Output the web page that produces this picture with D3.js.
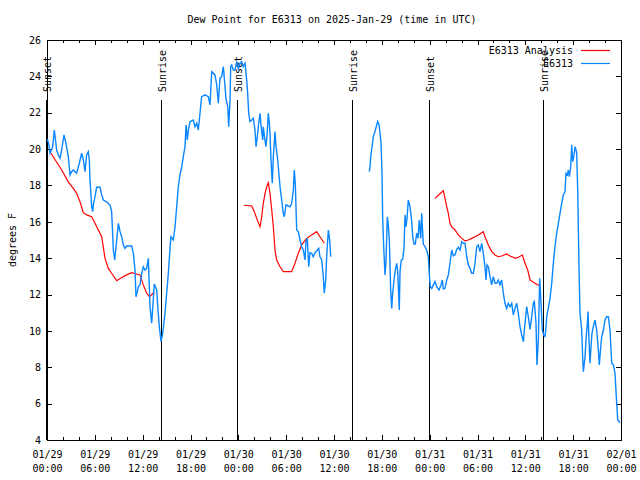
<!DOCTYPE html>
<html><head><meta charset="utf-8">
<script src="https://cdn.jsdelivr.net/npm/d3@7"></script>
<style>
body{margin:0;background:#fff}
text{font-family:"DejaVu Sans Mono",monospace;font-size:10px;fill:#000}
</style>
</head><body><svg id="c" width="640" height="480"></svg>
<script>
const title = "Dew Point for E6313 on 2025-Jan-29 (time in UTC)";
const yLabel = "degrees F";
const xTickHours = [0,6,12,18,24,30,36,42,48,54,60,66,72];
const xTickDates = ["01/29","01/29","01/29","01/29","01/30","01/30","01/30","01/30","01/31","01/31","01/31","01/31","02/01"];
const xTickTimes = ["00:00","06:00","12:00","18:00","00:00","06:00","12:00","18:00","00:00","06:00","12:00","18:00","00:00"];
const yTicks = [4,6,8,10,12,14,16,18,20,22,24,26];
const eventHours = [0, 14.38, 24.02, 38.37, 48.07, 62.36];
const eventLabels = ["Sunset","Sunrise","Sunset","Sunrise","Sunset","Sunrise"];
const seriesNames = ["E6313 Analysis","E6313"];
const seriesColors = ["#ff0000","#0a86ff"];

const analysisHours = [0.5,1.84,2.67,3.3,3.72,4.14,4.55,4.98,5.6,6.02,6.44,6.86,7.28,7.69,8.11,8.74,9.37,9.99,10.62,11.25,11.67,12.08,12.5,12.84,13.33,13.5,
 14,
 24.71,25.68,25.97,26.3,26.72,26.93,27.13,27.35,27.56,27.76,27.97,28.19,28.39,28.6,28.81,29.23,29.64,30.69,31.11,31.52,31.95,32.57,33.2,33.83,34.24,34.78,
 40,
 48.67,49.71,49.92,50.14,50.34,50.55,50.76,51.18,51.6,52.02,52.43,52.85,53.27,53.69,54.1,54.73,54.94,55.36,55.78,56.2,56.61,57.03,57.66,58.08,58.49,58.7,59.12,59.62,59.96,60.3,60.59,61.21,61.63,61.75];
const analysisValues = [19.77,18.85,18.2,17.84,17.57,17.1,16.5,16.38,16.28,15.92,15.55,15.18,13.99,13.44,13.17,12.76,12.94,13.08,13.2,13.13,13.08,12.53,12.07,11.88,12.07,12.1,
 null,
 16.91,16.87,16.6,16.19,15.73,16.28,17.02,17.57,17.93,18.15,17.57,16.65,15.73,14.45,13.9,13.53,13.26,13.26,13.72,14.27,14.73,15.09,15.28,15.46,15.18,14.82,
 null,
 17.29,17.71,17.29,16.83,16.47,15.92,15.73,15.55,15.28,15.09,14.95,15.0,15.09,15.18,15.28,15.46,15.18,14.73,14.36,14.18,14.08,14.12,14.23,14.12,14.05,13.99,14.05,14.17,13.72,13.35,12.8,12.62,12.53,12.5];

const obsHours = [0.04,0.21,0.38,0.71,0.92,1.21,1.42,1.63,1.84,2.13,2.38,2.67,2.89,3.09,3.3,3.51,3.72,4.05,4.35,4.56,4.77,4.97,5.18,5.31,5.39,5.48,5.6,5.73,5.81,6.02,6.23,6.65,6.86,7.07,7.48,7.9,8.11,8.32,8.49,8.66,8.95,9.16,9.37,9.58,9.78,9.99,10.62,10.83,11.04,11.16,11.33,11.45,11.67,11.88,12.08,12.29,12.5,12.71,12.92,13.13,13.33,13.46,13.76,13.89,14.09,14.3,14.51,14.8,15.01,15.22,15.43,15.55,15.84,16.06,16.27,16.47,16.68,16.9,17.1,17.31,17.44,17.6,17.73,17.94,18.35,18.56,18.78,18.98,19.19,19.4,19.82,20.23,20.45,20.66,21.07,21.29,21.49,21.7,21.91,22.12,22.33,22.45,22.67,22.79,22.96,23.04,23.17,23.37,23.58,23.8,24.0,24.21,24.42,24.62,24.84,25.05,25.17,25.3,25.46,25.68,25.88,26.09,26.22,26.38,26.5,26.72,26.84,27.05,27.13,27.3,27.47,27.63,27.76,27.89,27.97,28.1,28.26,28.39,28.6,28.73,28.94,29.23,29.44,29.64,29.77,29.98,30.27,30.48,30.69,30.9,31.02,31.15,31.32,31.52,31.74,31.95,32.15,32.36,32.49,32.65,32.83,32.99,33.2,33.4,33.62,33.91,34.08,34.24,34.46,34.66,34.78,34.96,35.08,35.29,35.46,35.59,
 38,
 40.43,40.52,40.6,40.77,40.93,41.14,41.36,41.48,41.65,41.77,41.9,42.02,42.11,42.27,42.4,42.52,42.69,42.81,42.94,43.11,43.24,43.36,43.53,43.69,43.86,43.99,44.19,44.28,44.44,44.62,44.78,44.91,45.03,45.16,45.32,45.53,45.75,45.87,46.04,46.2,46.37,46.54,46.7,46.88,47.0,47.2,47.41,47.63,47.83,47.96,48.08,48.26,48.46,48.67,48.88,49.17,49.42,49.59,49.71,49.92,50.14,50.34,50.55,50.77,50.97,51.18,51.39,51.6,51.81,52.02,52.22,52.43,52.65,52.85,53.06,53.27,53.48,53.69,53.9,54.1,54.31,54.53,54.73,54.94,55.07,55.19,55.36,55.57,55.78,55.98,56.2,56.41,56.61,56.82,57.03,57.24,57.45,57.66,57.86,58.08,58.29,58.49,58.7,58.92,59.12,59.33,59.54,59.75,59.96,60.17,60.37,60.59,60.8,61.0,61.13,61.34,61.46,61.63,61.8,61.97,62.13,62.3,62.47,62.6,62.68,62.88,63.1,63.31,63.51,63.72,63.93,64.14,64.35,64.56,64.77,64.98,65.1,65.27,65.39,65.52,65.69,65.82,65.94,66.11,66.23,66.36,66.44,66.57,66.73,66.86,67.07,67.19,67.28,67.49,67.61,67.78,67.87,67.95,68.11,68.24,68.36,68.53,68.74,68.95,69.16,69.28,69.46,69.58,69.79,70.0,70.21,70.41,70.62,70.84,71.04,71.25,71.34,71.46,71.59,71.88];
const obsValues = [20.55,20.3,19.77,20.13,21.05,19.95,19.67,19.5,19.95,20.78,20.3,19.6,18.58,18.76,18.85,18.76,18.67,19.22,19.77,19.4,18.76,19.67,19.86,19.4,18.3,17.75,16.83,16.56,16.93,17.38,17.9,17.9,17.48,17.2,17.1,16.93,16.56,14.45,13.9,14.63,15.92,15.46,15.18,14.73,14.54,14.67,14.67,14.27,13.35,11.88,12.16,12.43,12.53,13.17,13.53,13.35,13.44,13.99,11.33,10.43,11.7,12.58,12.25,11.33,10.23,9.41,9.87,10.97,12.07,13.17,14.54,15.18,15.0,15.73,16.83,17.93,18.58,19.03,19.58,20.13,21.33,20.5,21.05,21.5,21.6,21.23,21.42,21.05,21.97,22.88,22.98,22.88,22.43,24.26,24.08,23.53,22.52,23.9,23.98,24.53,23.43,22.79,22.33,21.23,22.7,24.53,24.63,24.35,24.35,24.81,24.44,24.72,24.81,24.53,24.72,23.8,23.07,21.97,21.51,21.6,21.69,21.05,20.13,20.68,21.23,21.97,21.33,20.5,21.23,20.59,20.13,20.96,21.97,21.42,20.87,19.4,18.12,19.58,20.96,20.13,19.4,17.93,17.2,16.47,16.28,16.93,16.87,16.83,17.02,17.75,18.85,18.03,15.55,15.46,15.0,14.63,14.45,13.9,14.91,15.09,13.53,14.3,14.27,14.08,14.3,14.45,14.54,14.08,13.9,12.98,12.07,12.8,14.08,15.55,15.0,14.08,
 null,
 18.76,19.03,19.58,20.13,20.68,20.96,21.33,21.51,21.33,20.87,20.32,18.67,16.1,14.27,13.08,13.81,16.28,15.83,15.0,12.25,11.24,12.07,12.8,13.35,13.72,13.26,11.15,13.26,13.9,13.94,14.54,16.38,15.73,16.19,17.2,16.83,16.01,15.18,14.78,14.78,15.37,15.09,16.1,15.09,16.47,14.78,14.63,14.45,14.08,13.08,12.43,12.34,12.53,12.71,12.43,12.25,12.53,12.8,12.3,12.34,12.8,13.08,13.72,14.45,14.12,14.18,14.49,14.6,14.45,14.91,14.82,14.82,14.08,13.63,13.44,13.17,13.17,13.72,14.63,14.73,14.36,14.82,14.27,13.53,12.8,13.63,13.53,12.98,12.53,12.98,12.62,12.62,12.8,12.53,12.8,12.07,11.52,11.24,11.52,11.33,11.52,10.88,11.24,11.52,10.97,10.23,9.78,9.41,10.42,11.33,10.78,10.08,10.78,11.52,11.61,10.42,8.13,9.5,12.89,11.52,10.05,9.78,9.7,10.23,10.78,11.24,11.79,12.62,13.72,14.63,15.37,15.92,16.47,17.02,17.48,17.66,18.67,18.58,18.85,18.48,19.03,20.23,19.31,19.68,20.13,19.95,19.77,17.75,13.53,10.97,10.05,8.58,7.76,8.58,9.5,10.42,11.06,9.87,8.22,9.13,9.87,10.23,10.6,10.05,8.95,8.13,9.13,9.68,10.05,10.6,10.78,10.78,10.05,8.22,8.13,7.67,6.93,6.02,5.1,4.95];

const svg = d3.select("#c");
svg.append("rect").attr("width",640).attr("height",480).attr("fill","#fff");
const L=47, R=621, T=40, B=440;
const x = d3.scaleLinear().domain([0,72]).range([L,R]);
const y = d3.scaleLinear().domain([4,26]).range([B,T]);
const minorHours = d3.range(0,73,2).filter(h => h % 6 !== 0);

function styleAxis(g){ g.selectAll("path,line").attr("stroke","#000").attr("shape-rendering","crispEdges"); g.selectAll("text").attr("fill","#000").attr("font-family",null).attr("font-size",null); }

// bottom axis
const gb = svg.append("g").attr("transform",`translate(0,${B})`)
  .call(d3.axisBottom(x).tickValues(xTickHours).tickSizeInner(-5).tickSizeOuter(0).tickFormat(""));
gb.selectAll(".tick").each(function(d,i){
  const t = d3.select(this).select("text").attr("y",0).attr("dy",null).text(null);
  t.append("tspan").attr("x",0).attr("y",18).text(xTickDates[i]);
  t.append("tspan").attr("x",0).attr("y",32).text(xTickTimes[i]);
});
styleAxis(gb);
const gbm = svg.append("g").attr("transform",`translate(0,${B})`)
  .call(d3.axisBottom(x).tickValues(minorHours).tickSizeInner(-3).tickSizeOuter(0).tickFormat(""));
styleAxis(gbm);
// top axis
const gt = svg.append("g").attr("transform",`translate(0,${T})`)
  .call(d3.axisTop(x).tickValues(xTickHours).tickSizeInner(-5).tickSizeOuter(0).tickFormat(""));
styleAxis(gt);
const gtm = svg.append("g").attr("transform",`translate(0,${T})`)
  .call(d3.axisTop(x).tickValues(minorHours).tickSizeInner(-3).tickSizeOuter(0).tickFormat(""));
styleAxis(gtm);
// left axis
const gl = svg.append("g").attr("transform",`translate(${L},0)`)
  .call(d3.axisLeft(y).tickValues(yTicks).tickSizeInner(-5).tickSizeOuter(0).tickPadding(6).tickFormat(d3.format("d")));
styleAxis(gl);
// right axis
const gr = svg.append("g").attr("transform",`translate(${R},0)`)
  .call(d3.axisRight(y).tickValues(yTicks).tickSizeInner(-5).tickSizeOuter(0).tickFormat(""));
styleAxis(gr);

// event lines (sunrise/sunset)
const ev = svg.append("g");
eventHours.forEach((h,i)=>{
  const px = Math.round(x(h)) - 0.5;
  ev.append("line").attr("x1",px).attr("x2",px).attr("y1",B).attr("y2",B-(B-T)*0.85)
    .attr("stroke","#000").attr("stroke-width",1).attr("shape-rendering","crispEdges");
  ev.append("text").attr("transform",`translate(${px+4.5},${B-(B-T)*0.87}) rotate(-90)`)
    .attr("text-anchor","start").text(eventLabels[i]);
});

// series
const line = d3.line().defined(d=>d[1]!==null).x(d=>x(d[0])).y(d=>y(d[1]));
const analysis = analysisHours.map((h,i)=>[h,analysisValues[i]]);
const obs = obsHours.map((h,i)=>[h,obsValues[i]]);
svg.append("path").datum(analysis).attr("d",line).attr("fill","none").attr("stroke",seriesColors[0]).attr("stroke-width",1.2);
svg.append("path").datum(obs).attr("d",line).attr("fill","none").attr("stroke",seriesColors[1]).attr("stroke-width",1.4);

// legend
seriesNames.forEach((n,i)=>{
  const ly = 50 + i*13;
  svg.append("text").attr("x",573).attr("y",ly+3.5).attr("text-anchor","end").text(n);
  svg.append("line").attr("x1",581).attr("x2",610).attr("y1",ly+0.5).attr("y2",ly+0.5)
    .attr("stroke",seriesColors[i]).attr("stroke-width",1.2);
});

// title & y label
svg.append("text").attr("x",332).attr("y",23).attr("text-anchor","middle").text(title);
svg.append("text").attr("transform","translate(16,240) rotate(-90)").attr("text-anchor","middle").text(yLabel);
</script>
</body></html>
